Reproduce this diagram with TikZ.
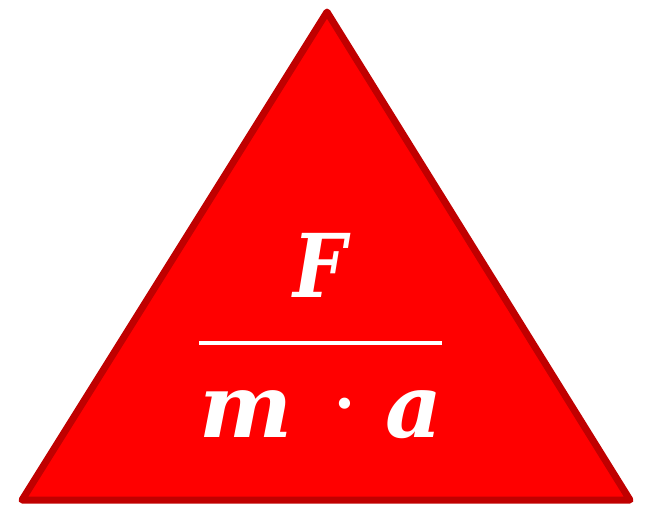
\documentclass[tikz,border=0pt]{standalone}
\usepackage{fontspec}
\setmainfont{DejaVu Serif}
\usetikzlibrary{positioning}

\definecolor{trifill}{RGB}{255,0,0}
\definecolor{triedge}{RGB}{192,0,0}

\begin{document}
\begin{tikzpicture}[
  x=1pt, y=-1pt,
  tri/.style={fill=trifill, draw=triedge, line width=7pt, line join=round},
  sym/.style={text=white, font=\fontsize{88}{90}\selectfont\bfseries\itshape,
              inner sep=0pt, anchor=base},
  bar/.style={draw=white, line width=4.5pt}
]
% Frame
\useasboundingbox (0,0) rectangle (647,506);

% Triangle
\coordinate (top)   at (327,12);
\coordinate (left)  at (22,500);
\coordinate (right) at (630,500);
\draw[tri] (top) -- (left) -- (right) -- cycle;

% Formula
\node[sym, xscale=0.85] (force) at (320,297) {F};
\coordinate (barl) at (199,343);
\coordinate (barr) at (442,343);
\draw[bar] (barl) -- (barr);
\node[sym] (mass)  at (246,437) {m};
\node[sym, font=\fontsize{60}{60}\selectfont\bfseries] (dot) at (345,424) {·};
\node[sym] (accel) at (414,437) {a};

\end{tikzpicture}
\end{document}
